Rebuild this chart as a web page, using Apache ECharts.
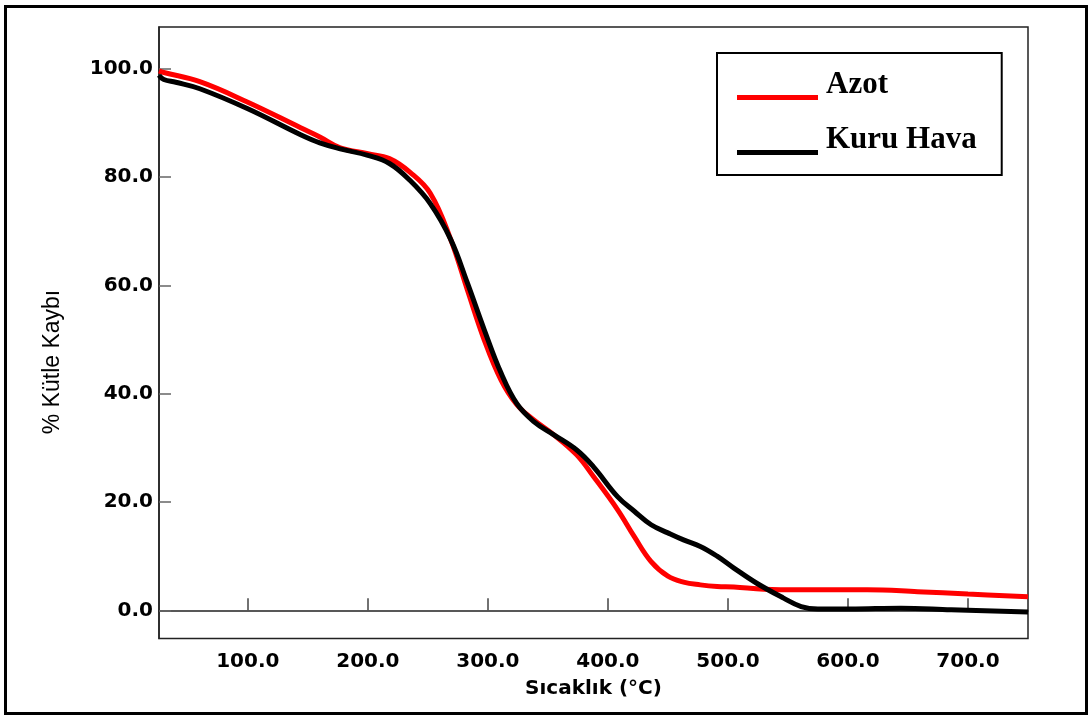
<!DOCTYPE html>
<html>
<head>
<meta charset="utf-8">
<script src="https://cdn.jsdelivr.net/npm/echarts@6/dist/echarts.min.js"></script>
<style>
  html, body { margin: 0; padding: 0; background: #fff; }
  #chart { width: 1092px; height: 716px; }
</style>
</head>
<body>
<div id="chart"></div>
<script>
// TGA curves: [temperature °C, % mass]
var azot = [
  [26, 99.6], [30, 99.3], [60, 97.6], [100, 93.8], [144, 89.1], [160, 87.4],
  [177, 85.4], [200, 84.3], [218, 83.4], [235, 80.9], [252, 77.0], [269, 68.5],
  [283, 59.1], [297, 49.9], [311, 42.5], [324, 38.0], [338, 35.2], [355, 32.4],
  [374, 28.7], [388, 24.7], [408, 18.6], [422, 13.6], [436, 9.0], [450, 6.3],
  [463, 5.2], [477, 4.7], [491, 4.4], [505, 4.3], [530, 3.9], [560, 3.8],
  [616, 3.8], [658, 3.45], [700, 3.0], [750, 2.5]
];
var kuruHava = [
  [26, 98.8], [30, 98.0], [40, 97.5], [60, 96.3], [100, 92.6], [144, 87.8],
  [160, 86.3], [177, 85.2], [200, 84.0], [218, 82.5], [235, 79.4], [252, 75.1],
  [269, 68.5], [283, 60.4], [297, 51.8], [311, 43.8], [324, 38.2], [338, 34.9],
  [355, 32.4], [374, 29.6], [388, 26.5], [408, 21.0], [422, 18.3], [436, 15.8],
  [450, 14.3], [463, 13.0], [477, 11.8], [491, 10.0], [505, 7.8], [524, 5.0],
  [546, 2.3], [561, 0.7], [575, 0.25], [602, 0.25], [644, 0.4], [686, 0.1],
  [750, -0.3]
];
var xTicks = [100, 200, 300, 400, 500, 600, 700];
var yTicks = [0, 20, 40, 60, 80, 100];
var seriesNames = ['Azot', 'Kuru Hava'];

var chart = echarts.init(document.getElementById('chart'));

var tickFont = { fontFamily: 'DejaVu Sans', fontWeight: 'bold', fontSize: 20, color: '#000' };

chart.setOption({
  animation: false,
  backgroundColor: '#fff',
  grid: {
    left: 159, top: 27, right: 64, bottom: 77.5,
    show: true, borderColor: '#222', borderWidth: 1.5
  },
  legend: {
    orient: 'vertical',
    left: 717, top: 53,
    padding: [16, 25, 12, 20],
    itemGap: 16,
    itemWidth: 81, itemHeight: 5,
    icon: 'rect',
    borderColor: '#000', borderWidth: 2,
    // name sits above the line: an empty spacer line below it lifts the text
    formatter: function (name) { return '{t|' + name + '}\n{s| }'; },
    textStyle: {
      color: '#000',
      rich: {
        t: { fontFamily: 'Liberation Serif', fontWeight: 'bold', fontSize: 31, lineHeight: 20, padding: [0, 0, 0, 3], color: '#000' },
        s: { fontSize: 1, lineHeight: 26 }
      }
    },
    data: seriesNames
  },
  xAxis: {
    type: 'value', min: 26, max: 750,
    name: 'Sıcaklık (°C)', nameLocation: 'middle', nameGap: 40,
    nameTextStyle: { fontFamily: 'DejaVu Sans', fontWeight: 'bold', fontSize: 20, color: '#000' },
    axisLine: { lineStyle: { color: '#222', width: 1.5 } },
    axisTick: { inside: true, length: 12, customValues: xTicks, lineStyle: { color: '#444', width: 1.5 } },
    axisLabel: Object.assign({ margin: 13, customValues: xTicks, formatter: function (v) { return v.toFixed(1); } }, tickFont),
    splitLine: { show: false }
  },
  yAxis: {
    type: 'value', min: -5.2, max: 107.7,
    axisLine: { show: true, lineStyle: { color: '#222', width: 1.5 } },
    axisTick: { show: true, inside: true, length: 12, customValues: yTicks, lineStyle: { color: '#666', width: 1.5 } },
    axisLabel: Object.assign({ margin: 6, customValues: yTicks, formatter: function (v) { return v.toFixed(1); } }, tickFont),
    splitLine: { show: false }
  },
  graphic: [
    {
      type: 'rect', silent: true, z: 100,
      shape: { x: 5.5, y: 6.5, width: 1081, height: 707 },
      style: { fill: 'none', stroke: '#000', lineWidth: 3 }
    },
    {
      type: 'text', silent: true, x: 53, y: 362, rotation: Math.PI / 2,
      style: {
        text: '% Kütle Kaybı', fontFamily: 'Liberation Sans', fontSize: 23,
        fill: '#000', align: 'center', verticalAlign: 'middle'
      }
    }
  ],
  series: [
    {
      name: seriesNames[0], type: 'line', data: azot, smooth: 0.4,
      showSymbol: false, symbol: 'none',
      itemStyle: { color: '#ff0000' },
      lineStyle: { color: '#ff0000', width: 5 }
    },
    {
      name: seriesNames[1], type: 'line', data: kuruHava, smooth: 0.4,
      showSymbol: false, symbol: 'none',
      itemStyle: { color: '#000' },
      lineStyle: { color: '#000', width: 5 }
    }
  ]
});
</script>
</body>
</html>
